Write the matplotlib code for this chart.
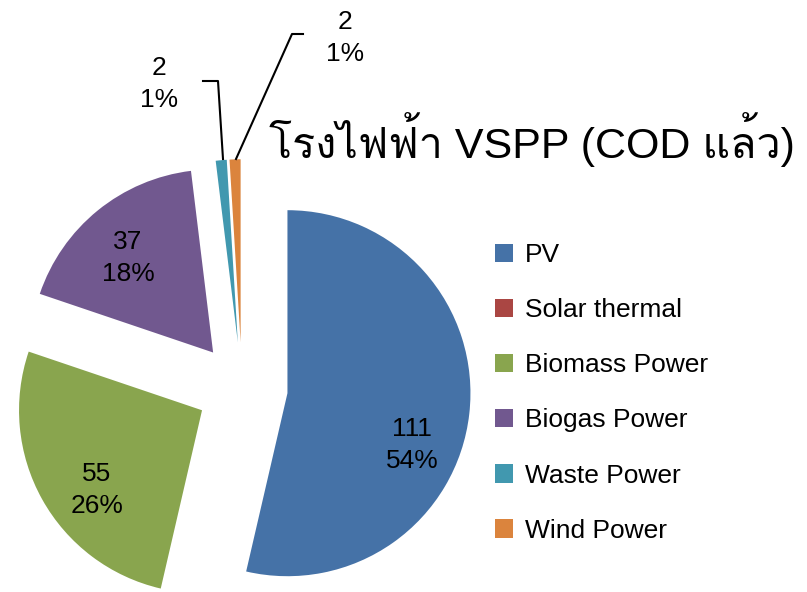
import matplotlib
matplotlib.use('Agg')
import matplotlib.pyplot as plt
from matplotlib import font_manager as fm
from matplotlib.ft2font import FT2Font
from matplotlib.patches import Patch

categories = ['PV', 'Solar thermal', 'Biomass Power', 'Biogas Power', 'Waste Power', 'Wind Power']
values = [111, 0, 55, 37, 2, 2]
pct_labels = ['54%', '0%', '26%', '18%', '1%', '1%']
colors = ['#4572A7', '#AA4643', '#89A54E', '#71588F', '#4198AF', '#DB843D']
title = 'โรงไฟฟ้า VSPP (COD แล้ว)'

W, H = 807, 592


def find_thai_font():
    for f in fm.fontManager.ttflist:
        try:
            if 0x0E42 in FT2Font(f.fname).get_charmap():
                return f.name
        except Exception:
            pass
    return None


thai = find_thai_font()
latin = 'Liberation Sans'
plt.rcParams['font.family'] = [latin] + ([thai] if thai else []) + ['DejaVu Sans']


def px(x, y):
    # pixel position in the reference -> figure fraction
    return x / W, 1 - y / H


fig = plt.figure(figsize=(W / 100, H / 100), dpi=100)
ax = fig.add_axes([0, 0, 1, 1])
wedges, _ = ax.pie(values, colors=colors, startangle=90, counterclock=False,
                   explode=[0.25] * len(values), radius=1.0,
                   wedgeprops=dict(linewidth=0))
# pie centre at (242, 388) px, radius 183 px
r = 183.0
ax.set_xlim(-242 / r, (W - 242) / r)
ax.set_ylim(-(H - 388) / r, 388 / r)
ax.set_aspect('auto')
ax.axis('off')

# data labels: value and percent
label_pos = {0: (412, 445), 2: (97, 490), 3: (128, 258), 4: (159, 84), 5: (345, 38)}
fs = 19
for i, (x, y) in label_pos.items():
    fig.text(*px(x, y), f'{values[i]}\n{pct_labels[i]}', ha='center', va='center',
             fontsize=fs, linespacing=1.38, color='black')

# leader lines for the two small slices
leaders = [[(203, 81), (218, 81), (223, 159)],
           [(303, 34), (292, 34), (236, 159)]]
for pts in leaders:
    xs, ys = zip(*[px(*p) for p in pts])
    fig.add_artist(plt.Line2D(xs, ys, transform=fig.transFigure, color='black', lw=1.5))

fig.text(*px(532, 140), title, ha='center', va='center', fontsize=31)

handles = [Patch(facecolor=c, edgecolor='none') for c in colors]
fig.legend(handles, categories, loc='upper left', bbox_to_anchor=px(495, 243),
           frameon=False, fontsize=fs, borderpad=0, borderaxespad=0,
           handlelength=0.7, handleheight=0.7, handletextpad=0.45,
           labelspacing=1.18)

fig.savefig('out.png', dpi=100)
